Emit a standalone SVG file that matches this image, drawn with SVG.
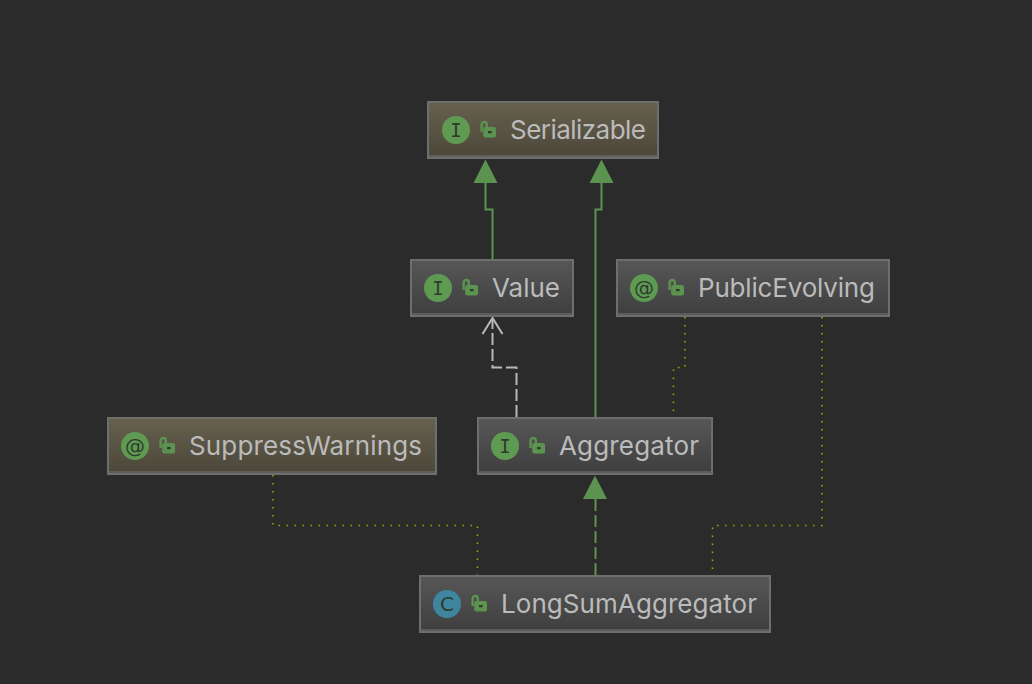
<svg xmlns="http://www.w3.org/2000/svg" width="1032" height="684" viewBox="0 0 1032 684">
<style>
.box{stroke:#6e6e6e;stroke-width:2}
.band{fill:#6e6e6e;opacity:.6}
.label{font-family:"Inter","Liberation Sans",sans-serif;font-size:26px;fill:#bbbbbb}
.glyph{fill:#2f3a2c;text-anchor:middle}
.serif{font-family:"DejaVu Sans Mono",monospace;font-size:19px}
.sans{font-family:"DejaVu Sans",sans-serif;font-size:20px}
.green{fill:none;stroke:#5c9350;stroke-width:2}
.grey{fill:none;stroke:#b8b8b8;stroke-width:2}
.dash{stroke-dasharray:12 4}
.dot{fill:none;stroke:#a6a600;stroke-width:1.6;stroke-dasharray:1.6 6.4}
</style>
<defs>
<linearGradient id="gi" x1="0" y1="0" x2="0" y2="1"><stop offset="0" stop-color="#575757"/><stop offset="1" stop-color="#3e3e3e"/></linearGradient>
<linearGradient id="gt" x1="0" y1="0" x2="0" y2="1"><stop offset="0" stop-color="#67604e"/><stop offset="1" stop-color="#4b4739"/></linearGradient>
<g id="lock">
<path d="M1.6 11V3.6a2.6 2.6 0 0 1 5.2 0V6" fill="none" stroke="#5c9350" stroke-width="2.4"/>
<rect x="3.2" y="6" width="12.8" height="10.5" rx="2" fill="#5c9350"/>
<rect x="8" y="10" width="3.6" height="2.2" fill="#2f3a2c"/>
</g>
</defs>
<rect width="1032" height="684" fill="#2b2b2b"/>
<g id="connectors">
<path class="green" d="M492.5 259V209.5H485.5V180"/>
<path d="M485.5 159.5L497.5 183H473.5Z" fill="#5c9350"/>
<path class="green" d="M595.5 417V209.5H601.5V180"/>
<path d="M601.5 159.5L613.5 183H589.5Z" fill="#5c9350"/>
<path class="grey dash" d="M516.5 417V367.5H492.5V320"/>
<path class="grey" d="M482.5 334L492.5 318L502.5 334"/>
<path class="green dash" d="M595.5 575V496"/>
<path d="M595 475.5L607 499H583Z" fill="#5c9350"/>
<path class="dot" d="M273 475V525.5H477.5V575"/>
<path class="dot" d="M685 317V367.5H673.5V417"/>
<path class="dot" d="M822 317V525.5H712.5V575"/>
</g>
<g id="node-serializable">
<rect class="box" x="428" y="102" width="230" height="56" fill="url(#gt)"/><rect class="band" x="429" y="155" width="228" height="2"/>
<circle cx="456" cy="130" r="14" fill="#5f9a52"/><text class="glyph serif" x="456" y="137">I</text>
<use href="#lock" x="480" y="121"/><text class="label" x="510" y="139" textLength="136" lengthAdjust="spacing">Serializable</text>
</g>
<g id="node-value">
<rect class="box" x="411" y="260" width="162" height="56" fill="url(#gi)"/><rect class="band" x="412" y="313" width="160" height="2"/>
<circle cx="438" cy="288" r="14" fill="#5f9a52"/><text class="glyph serif" x="438" y="295">I</text>
<use href="#lock" x="462" y="279"/><text class="label" x="492" y="297" textLength="68" lengthAdjust="spacing">Value</text>
</g>
<g id="node-publicevolving">
<rect class="box" x="617" y="260" width="272" height="56" fill="url(#gi)"/><rect class="band" x="618" y="313" width="270" height="2"/>
<circle cx="644" cy="288" r="14" fill="#5f9a52"/><text class="glyph sans" x="644" y="295">@</text>
<use href="#lock" x="668" y="279"/><text class="label" x="698" y="297" textLength="177" lengthAdjust="spacing">PublicEvolving</text>
</g>
<g id="node-suppresswarnings">
<rect class="box" x="108" y="418" width="328" height="56" fill="url(#gt)"/><rect class="band" x="109" y="471" width="326" height="2"/>
<circle cx="135" cy="446" r="14" fill="#5f9a52"/><text class="glyph sans" x="135" y="453">@</text>
<use href="#lock" x="159" y="437"/><text class="label" x="189" y="455" textLength="233" lengthAdjust="spacing">SuppressWarnings</text>
</g>
<g id="node-aggregator">
<rect class="box" x="478" y="418" width="234" height="56" fill="url(#gi)"/><rect class="band" x="479" y="471" width="232" height="2"/>
<circle cx="505" cy="446" r="14" fill="#5f9a52"/><text class="glyph serif" x="505" y="453">I</text>
<use href="#lock" x="529" y="437"/><text class="label" x="559" y="455" textLength="140" lengthAdjust="spacing">Aggregator</text>
</g>
<g id="node-longsumaggregator">
<rect class="box" x="420" y="576" width="350" height="56" fill="url(#gi)"/><rect class="band" x="421" y="629" width="348" height="2"/>
<circle cx="447" cy="604" r="14" fill="#3e86a0"/><text class="glyph sans" x="447" y="611">C</text>
<use href="#lock" x="471" y="595"/><text class="label" x="501" y="613" textLength="256" lengthAdjust="spacing">LongSumAggregator</text>
</g>
</svg>
